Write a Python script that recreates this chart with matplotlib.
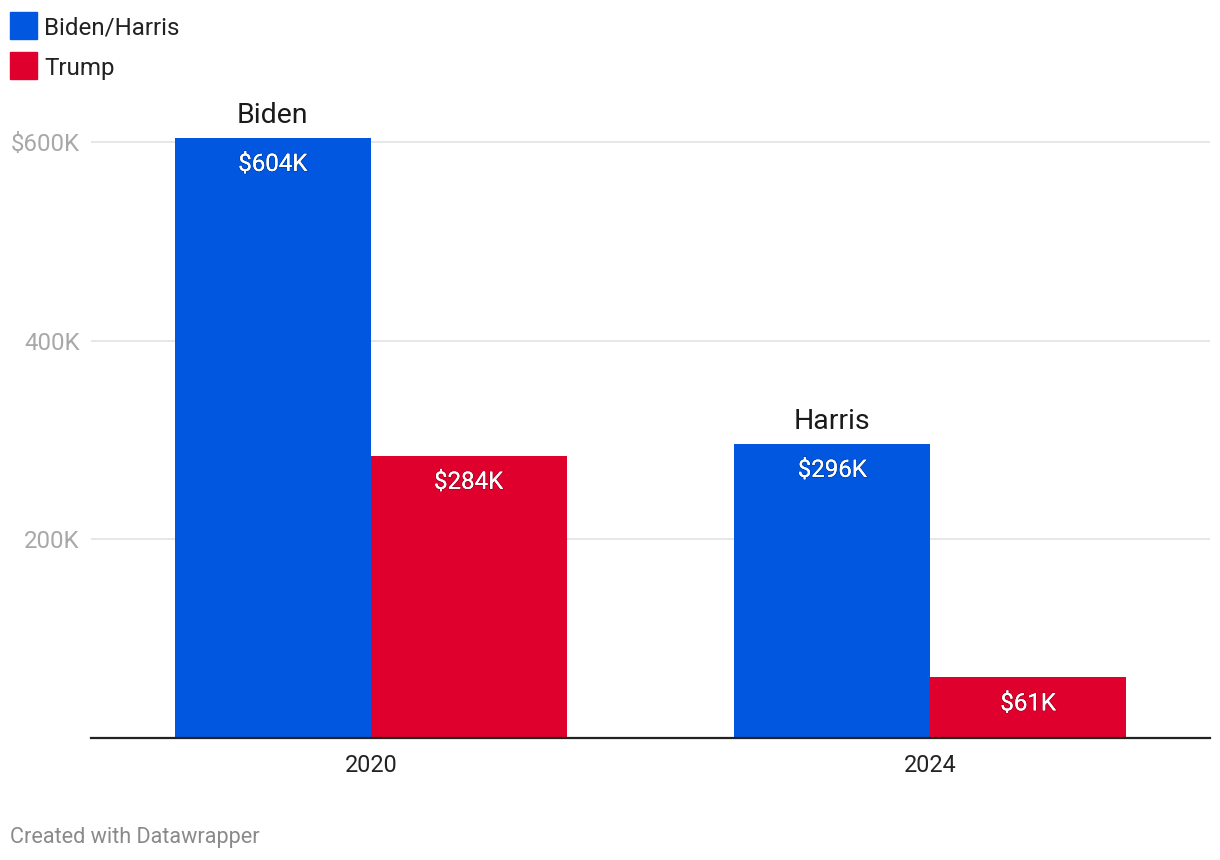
import matplotlib
matplotlib.use('Agg')
import matplotlib.pyplot as plt
import matplotlib.patheffects as pe
import numpy as np
from matplotlib.patches import Rectangle

plt.rcParams['font.family'] = ['Roboto', 'DejaVu Sans']

# data (thousands of dollars)
years = ['2020', '2024']
dem = [604, 296]
rep = [284, 61]
dem_names = ['Biden', 'Harris']
yticks = [200, 400, 600]
ytick_labels = ['200K', '400K', '$600K']

blue = '#0157e0'
red = '#e0002d'

W, H = 1220, 860
fig = plt.figure(figsize=(W / 100, H / 100), dpi=100)

# axes in pixel coords: x 91..1210, y 122..738
ymax = 620
top_px = 738 - ymax * 596 / 600
ax = fig.add_axes([91 / W, 1 - 738 / H, (1210 - 91) / W, (738 - top_px) / H])

x = np.arange(len(years))
bw = 0.35
b1 = ax.bar(x - bw / 2, dem, bw, color=blue, zorder=3)
b2 = ax.bar(x + bw / 2, rep, bw, color=red, zorder=3)

ax.set_xlim(-0.5, 1.5)
ax.set_ylim(0, ymax)

for s in ax.spines.values():
    s.set_visible(False)
ax.axhline(0, color='#222222', lw=1.6, zorder=4, clip_on=False)
for yt in yticks:
    ax.axhline(yt, color='#e3e3e3', lw=1.2, zorder=1)

ax.set_yticks(yticks)
ax.set_yticklabels(ytick_labels, fontsize=17.3, color='#a8a8a8')
ax.set_xticks(x)
ax.set_xticklabels(years, fontsize=16.8, color='#222222')
ax.tick_params(axis='y', length=0, pad=8)
ax.tick_params(axis='x', length=0, pad=11.5)

def fmt(v):
    return '$%dK' % v

for bars, vals in ((b1, dem), (b2, rep)):
    for bar, v in zip(bars, vals):
        cx = bar.get_x() + bar.get_width() / 2
        t = ax.annotate(fmt(v), (cx, v), xytext=(0, -19), textcoords='offset points',
                        ha='center', va='center', color='white', fontsize=17.3, zorder=5)
        t.set_path_effects([pe.withStroke(linewidth=1.2, foreground=(0, 0, 0, 0.25)), pe.Normal()])

for bar, v, name in zip(b1, dem, dem_names):
    cx = bar.get_x() + bar.get_width() / 2
    ax.annotate(name, (cx, v), xytext=(0, 16), textcoords='offset points',
                ha='center', va='center', color='#1a1a1a', fontsize=20.5, zorder=5)

# legend
for i, (lab, col) in enumerate((('Biden/Harris', blue), ('Trump', red))):
    y0 = 12 + i * 40
    fig.patches.append(Rectangle((10 / W, 1 - (y0 + 27) / H), 27 / W, 27 / H,
                                 transform=fig.transFigure, color=col))
    fig.text(44 / W, 1 - (y0 + 16) / H, lab, fontsize=17.4, color='#222222',
             ha='left', va='center')

fig.text(10 / W, 1 - 837 / H, 'Created with Datawrapper', fontsize=15.6, color='#8a8a8a',
         ha='left', va='center')

fig.savefig('out.png', dpi=100, facecolor='white')
